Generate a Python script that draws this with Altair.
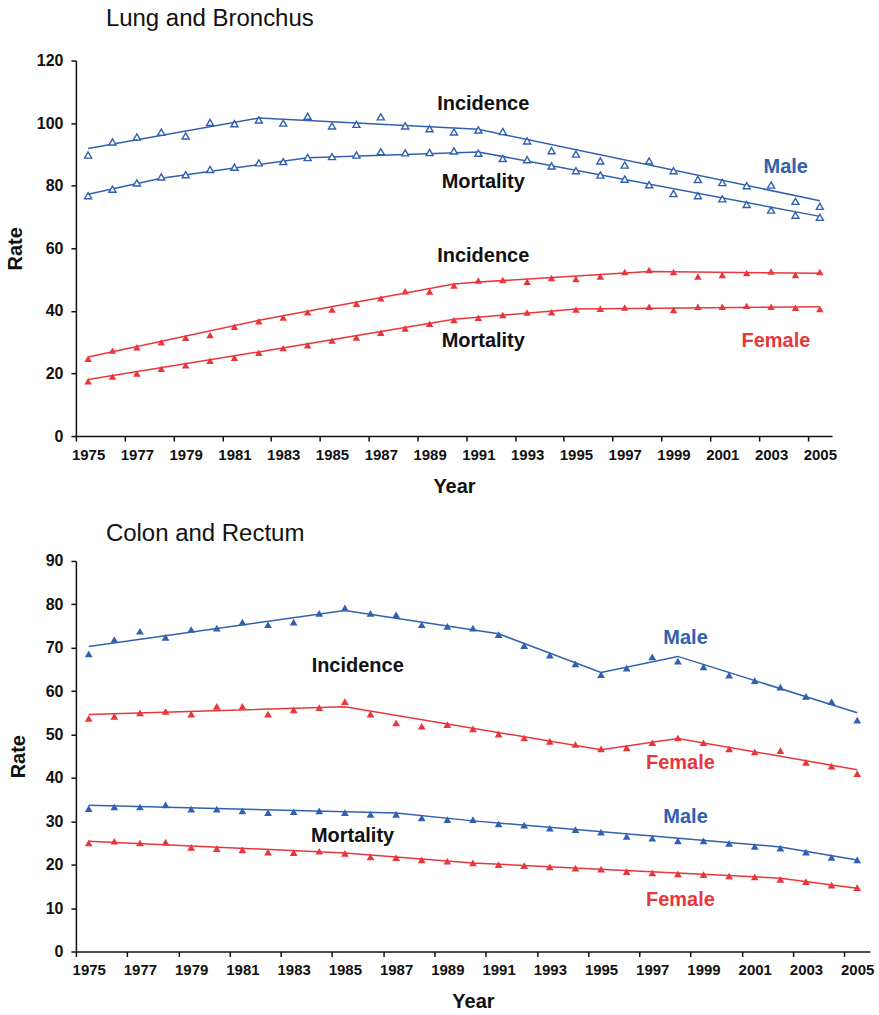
import altair as alt
import pandas as pd

years = list(range(1975, 2006))

# ---- Lung and Bronchus (observed rates) ----
lung_male_inc = [89.8, 94.0, 95.6, 97.1, 95.9, 100.2, 99.8, 101.0, 100.0, 102.2, 99.1, 99.6, 102.0, 99.1, 98.2, 97.2,
                 97.8, 97.3, 94.3, 91.2, 90.1, 87.9, 86.6, 87.9, 84.8, 82.0, 81.0, 80.0, 80.2, 75.0, 73.4]
lung_male_mort = [76.8, 78.9, 80.9, 82.8, 83.5, 85.2, 85.9, 87.3, 87.7, 89.0, 89.3, 89.8, 90.9, 90.5, 90.6, 91.1,
                  90.4, 88.7, 88.3, 86.3, 84.8, 83.4, 82.1, 80.3, 77.5, 76.8, 75.8, 74.0, 72.2, 70.6, 69.9]
lung_female_inc = [24.7, 27.3, 28.4, 30.0, 31.4, 32.3, 34.9, 36.7, 37.9, 39.6, 40.4, 42.3, 44.0, 46.3, 46.2, 48.1,
                   49.7, 49.9, 49.3, 50.5, 50.2, 51.0, 52.4, 53.1, 52.4, 51.0, 51.5, 52.1, 52.6, 51.5, 52.4]
lung_female_mort = [17.5, 19.0, 20.0, 21.5, 22.6, 24.1, 25.0, 26.6, 28.1, 29.0, 30.5, 31.5, 33.0, 34.4, 35.9, 37.1,
                    37.8, 38.7, 39.5, 39.6, 40.4, 40.7, 41.1, 41.3, 40.3, 41.3, 41.3, 41.6, 41.3, 41.0, 40.6]

# ---- Colon and Rectum (observed rates) ----
crc_male_inc = [68.6, 71.9, 73.8, 72.4, 74.2, 74.5, 75.9, 75.3, 75.9, 77.9, 79.2, 77.9, 77.6, 75.3, 74.9, 74.5,
                73.0, 70.5, 68.3, 66.3, 63.8, 65.3, 67.9, 66.9, 65.6, 63.7, 62.4, 60.9, 58.8, 57.6, 53.3]
crc_female_inc = [53.7, 54.2, 55.0, 55.3, 54.7, 56.5, 56.5, 54.7, 55.7, 56.2, 57.6, 54.7, 52.7, 51.9, 52.3, 51.3,
                  50.1, 49.2, 48.4, 47.7, 46.7, 46.9, 48.1, 49.2, 48.1, 46.7, 46.0, 46.3, 43.6, 42.7, 41.0]
crc_male_mort = [32.9, 33.3, 33.3, 33.8, 32.8, 32.8, 32.4, 32.0, 32.2, 32.4, 32.0, 31.6, 31.6, 30.8, 30.4, 30.4,
                 29.4, 29.1, 28.4, 28.1, 27.5, 26.5, 26.1, 25.5, 25.5, 24.9, 24.2, 23.8, 22.9, 21.7, 21.1]
crc_female_mort = [25.0, 25.4, 25.0, 25.2, 24.0, 23.7, 23.4, 22.9, 22.8, 23.1, 22.6, 21.8, 21.6, 21.1, 20.8, 20.4,
                   20.0, 19.8, 19.5, 19.2, 19.0, 18.4, 18.1, 17.9, 17.7, 17.4, 17.2, 16.6, 16.1, 15.3, 14.7]

# ---- fitted (joinpoint) trend lines: joinpoint years and values ----
fit_lung_male_inc = ([1975, 1982, 1991, 2005], [91.9, 101.6, 98.0, 75.2])
fit_lung_male_mort = ([1975, 1978, 1984, 1991, 2005], [77.3, 82.4, 88.9, 90.8, 70.2])
fit_lung_female_inc = ([1975, 1982, 1990, 1991, 1998, 2005], [25.3, 37.0, 48.6, 49.2, 52.6, 52.0])
fit_lung_female_mort = ([1975, 1982, 1990, 1995, 2005], [18.1, 26.9, 37.3, 40.6, 41.3])
fit_crc_male_inc = ([1975, 1985, 1991, 1995, 1998, 2005], [70.3, 78.6, 73.2, 64.3, 68.0, 55.0])
fit_crc_female_inc = ([1975, 1985, 1995, 1998, 2005], [54.6, 56.4, 46.5, 49.1, 41.9])
fit_crc_male_mort = ([1975, 1987, 1990, 2002, 2005], [33.7, 31.9, 30.1, 24.1, 21.1])
fit_crc_female_mort = ([1975, 1985, 1990, 2002, 2005], [25.4, 22.7, 20.4, 16.9, 14.6])

# ---- annotation labels ----
lung_labels = ["Incidence", "Mortality", "Male", "Incidence", "Mortality", "Female"]
lung_label_x = [1991.2, 1991.2, 2003.6, 1991.2, 1991.2, 2003.2]
lung_label_y = [106.1, 81.2, 86.0, 57.6, 30.5, 30.5]
lung_label_kind = ["Text", "Text", "Male", "Text", "Text", "Female"]

crc_labels = ["Male", "Incidence", "Female", "Male", "Mortality", "Female"]
crc_label_x = [1998.3, 1985.5, 1998.1, 1998.3, 1985.3, 1998.1]
crc_label_y = [72.3, 65.7, 43.5, 30.9, 26.7, 11.9]
crc_label_kind = ["Male", "Text", "Female", "Male", "Text", "Female"]

BLUE = "#3160b0"
RED = "#e8363c"
FONT = "Liberation Sans"
color_scale = alt.Scale(domain=["Male", "Female", "Text"], range=[BLUE, RED, "#111111"])


def points_df(series):
    rows = []
    for sex, measure, vals in series:
        for y, v in zip(years, vals):
            rows.append({"year": y, "rate": v, "sex": sex, "measure": measure})
    return pd.DataFrame(rows)


def fit_df(series):
    rows = []
    for sex, measure, (yrs, vals) in series:
        for y, v in zip(yrs, vals):
            rows.append({"year": y, "rate": v, "sex": sex, "measure": measure})
    return pd.DataFrame(rows)


def label_df(texts, xs, ys, kinds):
    return pd.DataFrame({"label": texts, "year": xs, "rate": ys, "kind": kinds})


def panel(title, pts, fits, labels, width, height, ymax, ystep, title_offset, y_title_pad, hollow_male):
    step = width / 31.0
    tick_vals = [1974.5 + i for i in range(32)]
    x_enc = alt.X(
        "year:Q",
        scale=alt.Scale(domain=[1974.5, 2005.5], nice=False, zero=False),
        axis=alt.Axis(
            values=tick_vals,
            labelExpr="((datum.value + 0.5) % 2 == 1 && datum.value < 2005) ? toString(datum.value + 0.5) : ''",
            labelOffset=step / 2,
            labelOverlap=False,
            labelFlush=False,
            title="Year",
            tickSize=5,
            labelPadding=6,
            titlePadding=14,
            labelFontSize=15,
        ),
    )
    y_enc = alt.Y(
        "rate:Q",
        scale=alt.Scale(domain=[0, ymax], nice=False, zero=True),
        axis=alt.Axis(values=list(range(0, ymax + 1, ystep)), title="Rate", tickSize=5,
                      labelPadding=8, titlePadding=y_title_pad, labelFontSize=16),
    )
    col = alt.Color("sex:N", scale=color_scale, legend=None)

    lines = alt.Chart(fits).mark_line(strokeWidth=1.5).encode(
        x=x_enc, y=y_enc, color=col, detail="measure:N"
    )
    layers = [lines]
    if hollow_male:
        male = alt.Chart(pts[pts.sex == "Male"]).mark_point(
            shape="triangle-up", size=50, filled=False, fill="white", fillOpacity=1, strokeWidth=1.4, opacity=1
        ).encode(x="year:Q", y="rate:Q", color=col)
        female = alt.Chart(pts[pts.sex == "Female"]).mark_point(
            shape="triangle-up", size=56, filled=True, opacity=1
        ).encode(x="year:Q", y="rate:Q", color=col)
        layers += [male, female]
    else:
        pts_layer = alt.Chart(pts).mark_point(
            shape="triangle-up", size=60, filled=True, opacity=1
        ).encode(x="year:Q", y="rate:Q", color=col)
        layers.append(pts_layer)
    text = alt.Chart(labels).mark_text(
        font=FONT, fontSize=20, fontWeight="bold", align="center", baseline="middle"
    ).encode(
        x="year:Q", y="rate:Q", text="label:N",
        color=alt.Color("kind:N", scale=color_scale, legend=None),
    )
    layers.append(text)
    return alt.layer(*layers).properties(
        width=width,
        height=height,
        title=alt.TitleParams(title, anchor="start", frame="group", dx=30, fontSize=24, fontWeight="normal",
                              font=FONT, color="#111111", baseline="alphabetic", offset=title_offset),
    )


lung_pts = points_df([
    ("Male", "Incidence", lung_male_inc), ("Male", "Mortality", lung_male_mort),
    ("Female", "Incidence", lung_female_inc), ("Female", "Mortality", lung_female_mort),
])
lung_fit = fit_df([
    ("Male", "Incidence", fit_lung_male_inc), ("Male", "Mortality", fit_lung_male_mort),
    ("Female", "Incidence", fit_lung_female_inc), ("Female", "Mortality", fit_lung_female_mort),
])
crc_pts = points_df([
    ("Male", "Incidence", crc_male_inc), ("Male", "Mortality", crc_male_mort),
    ("Female", "Incidence", crc_female_inc), ("Female", "Mortality", crc_female_mort),
])
crc_fit = fit_df([
    ("Male", "Incidence", fit_crc_male_inc), ("Male", "Mortality", fit_crc_male_mort),
    ("Female", "Incidence", fit_crc_female_inc), ("Female", "Mortality", fit_crc_female_mort),
])

top = panel("Lung and Bronchus", lung_pts, lung_fit,
            label_df(lung_labels, lung_label_x, lung_label_y, lung_label_kind),
            757, 376, 120, 20, 3, 11, True)
bottom = panel("Colon and Rectum", crc_pts, crc_fit,
               label_df(crc_labels, crc_label_x, crc_label_y, crc_label_kind),
               795, 391, 90, 10, -12, 17, False)

chart = alt.vconcat(top, bottom, spacing=26).properties(
    padding={"left": 5, "top": 6, "right": 5, "bottom": 3}
).configure_view(stroke=None).configure_axis(
    grid=False,
    domainColor="#111111",
    domainWidth=1.5,
    tickColor="#111111",
    tickWidth=1.5,
    labelFont=FONT,
    labelFontWeight="bold",
    labelColor="#111111",
    titleFont=FONT,
    titleFontSize=20,
    titleFontWeight="bold",
    titleColor="#111111",
)

chart.save("out.html", embed_options={"renderer": "svg", "actions": False})
